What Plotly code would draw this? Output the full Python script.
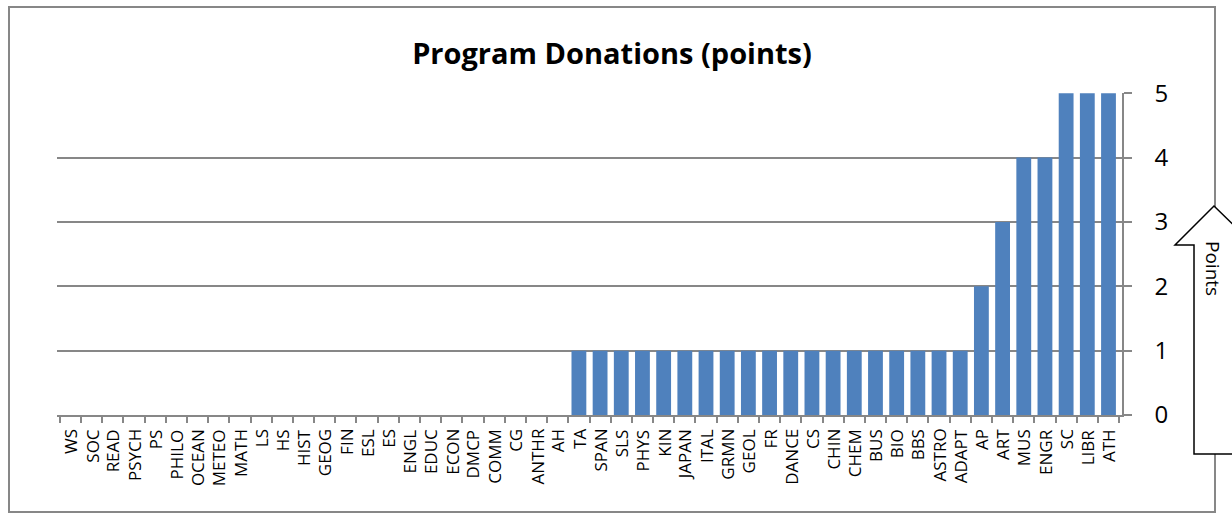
import plotly.graph_objects as go

categories = ["WS", "SOC", "READ", "PSYCH", "PS", "PHILO", "OCEAN", "METEO", "MATH", "LS",
              "HS", "HIST", "GEOG", "FIN", "ESL", "ES", "ENGL", "EDUC", "ECON", "DMCP",
              "COMM", "CG", "ANTHR", "AH", "TA", "SPAN", "SLS", "PHYS", "KIN", "JAPAN",
              "ITAL", "GRMN", "GEOL", "FR", "DANCE", "CS", "CHIN", "CHEM", "BUS", "BIO",
              "BBS", "ASTRO", "ADAPT", "AP", "ART", "MUS", "ENGR", "SC", "LIBR", "ATH"]
points = [0] * 24 + [1] * 19 + [2, 3, 4, 4, 5, 5, 5]
y_ticks = [0, 1, 2, 3, 4, 5]

W, H = 1232, 514
L, R, T, B = 57, 1122, 93, 415  # plot area in pixels


def px(x):
    return (x - L) / (R - L)


def py(y):
    return (B - y) / (B - T)


fig = go.Figure(go.Bar(x=categories, y=points, marker_color="#4F81BD",
                       marker_line_width=0))

gray = "#878787"
frame = dict(type="rect", xref="paper", yref="paper",
             x0=px(9), x1=px(1215), y0=py(512), y1=py(7),
             line=dict(color=gray, width=2), fillcolor="rgba(0,0,0,0)", layer="above")

arrow_pts = [(1214, 206), (1255, 246), (1234, 246), (1234, 454), (1194, 454),
             (1194, 245), (1175, 245)]
path = "M " + " L ".join(f"{px(a):.5f},{py(b):.5f}" for a, b in arrow_pts) + " Z"
arrow = dict(type="path", xref="paper", yref="paper", path=path,
             line=dict(color="black", width=1.5), fillcolor="white", layer="above")

# category labels placed at the x axis category positions
cat_labels = [dict(text=c, xref="x", yref="paper", x=c, y=py(427),
                   textangle=-90, showarrow=False, xanchor="center", yanchor="top",
                   font=dict(size=17, color="black"))
              for c in categories]

fig.update_layout(
    width=W, height=H,
    margin=dict(l=L, r=W - R, t=T, b=H - B, pad=0, autoexpand=False),
    paper_bgcolor="white", plot_bgcolor="white",
    showlegend=False,
    bargap=0.3,
    font=dict(family="Open Sans, sans-serif", color="black"),
    title=dict(text="<b>Program Donations (points)</b>", x=612 / W, y=1 - 54 / H,
               xanchor="center", yanchor="middle", font=dict(size=29, color="black")),
    xaxis=dict(type="category", showticklabels=False,
               tickmode="linear", tick0=0, dtick=1,
               showline=True, linecolor=gray, linewidth=1.5,
               ticks="outside", ticklen=6, tickcolor=gray, tickwidth=1.5,
               tickson="boundaries", showgrid=False, fixedrange=True, automargin=False),
    yaxis=dict(side="right", range=[0, 5.002], tickvals=y_ticks,
               tickfont=dict(size=24), showgrid=True, gridcolor=gray, gridwidth=1.5,
               showline=True, linecolor=gray, linewidth=1.5,
               ticks="outside", ticklen=8, tickcolor=gray, tickwidth=1.5,
               ticklabelstandoff=18,
               zeroline=False, fixedrange=True, automargin=False),
    shapes=[frame, arrow],
    annotations=cat_labels + [dict(text="Points", xref="paper", yref="paper",
                                   x=px(1213), y=py(268), textangle=90, showarrow=False,
                                   xanchor="center", yanchor="middle",
                                   font=dict(size=19, color="black"))],
)

fig.write_html("out.html", config={"displayModeBar": False},
               post_script="document.body.style.margin='0';")
